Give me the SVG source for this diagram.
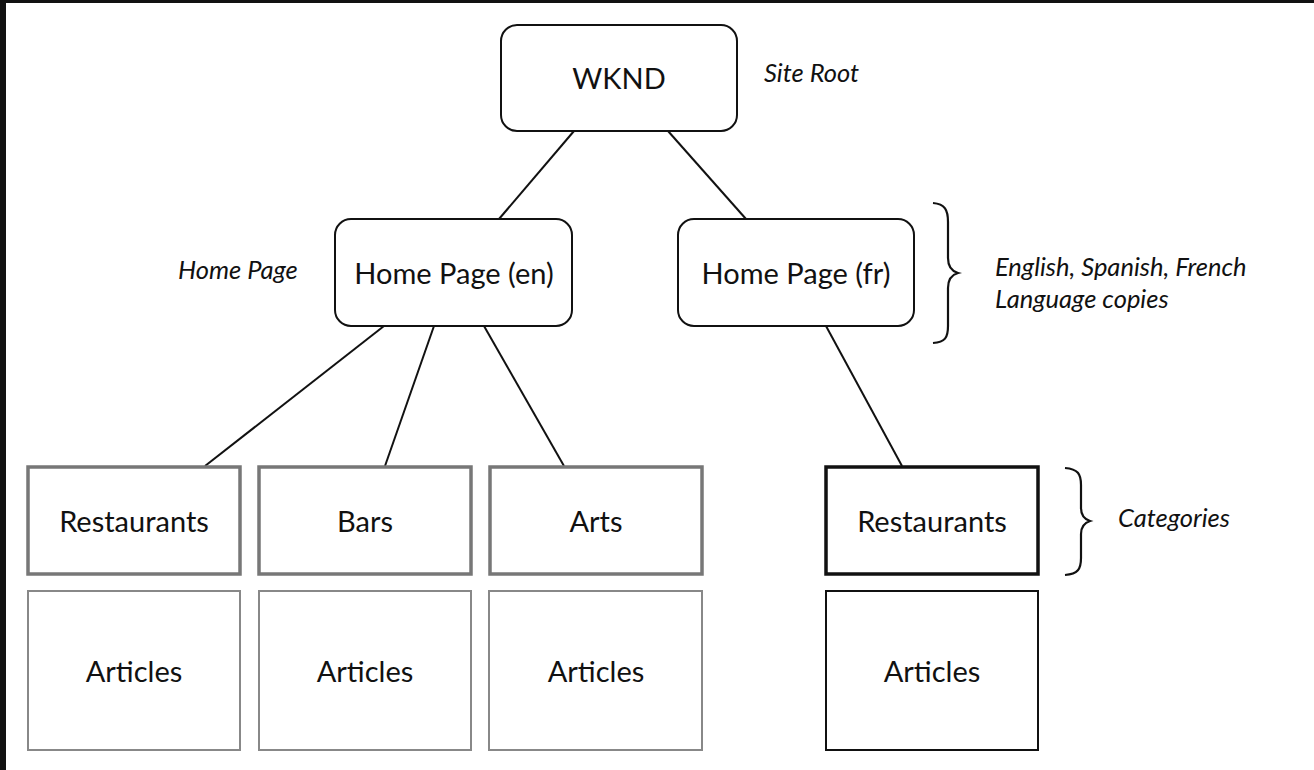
<svg xmlns="http://www.w3.org/2000/svg" width="1314" height="770" viewBox="0 0 1314 770">
<style>
.t{font-family:Lato,"Open Sans","Liberation Sans",sans-serif;font-size:29px;fill:#111;text-anchor:middle}
.i{font-family:Lato,"Open Sans","Liberation Sans",sans-serif;font-size:25.5px;font-style:italic;fill:#111}
.rr{fill:#fff;stroke:#111;stroke-width:2}
.cg{fill:#fff;stroke:#777;stroke-width:3.5}
.ag{fill:#fff;stroke:#888;stroke-width:2}
.cb{fill:#fff;stroke:#111;stroke-width:3.5}
.ab{fill:#fff;stroke:#111;stroke-width:2}
.c{stroke:#111;stroke-width:2;fill:none}
.br{stroke:#111;stroke-width:2.2;fill:none}
</style>
<rect x="0" y="0" width="1314" height="770" fill="#fff"/>
<rect x="0" y="0" width="1314" height="3" fill="#111"/>
<rect x="0" y="0" width="6" height="770" fill="#111"/>
<g id="connectors">
<line class="c" x1="574" y1="131" x2="499" y2="219"/>
<line class="c" x1="668" y1="131" x2="746" y2="219"/>
<line class="c" x1="384" y1="326" x2="205" y2="466"/>
<line class="c" x1="434" y1="326" x2="385" y2="466"/>
<line class="c" x1="484" y1="326" x2="564" y2="466"/>
<line class="c" x1="826" y1="326" x2="902" y2="466"/>
</g>
<g id="wknd"><rect class="rr" x="501" y="25" width="236" height="106" rx="16"/><text class="t" x="619" y="89">WKND</text></g>
<g id="hp-en"><rect class="rr" x="335" y="219" width="237" height="107" rx="16"/><text class="t" x="454" y="284">Home Page (en)</text></g>
<g id="hp-fr"><rect class="rr" x="678" y="219" width="236" height="107" rx="16"/><text class="t" x="796" y="284">Home Page (fr)</text></g>
<g id="rest-en"><rect class="cg" x="28" y="467" width="212" height="107"/><text class="t" x="134" y="532">Restaurants</text></g>
<g id="bars"><rect class="cg" x="259" y="467" width="212" height="107"/><text class="t" x="365" y="532">Bars</text></g>
<g id="arts"><rect class="cg" x="490" y="467" width="212" height="107"/><text class="t" x="596" y="532">Arts</text></g>
<g id="rest-fr"><rect class="cb" x="826" y="467" width="212" height="107"/><text class="t" x="932" y="532">Restaurants</text></g>
<g id="art1"><rect class="ag" x="28" y="591" width="212" height="159"/><text class="t" x="134" y="682">Articles</text></g>
<g id="art2"><rect class="ag" x="259" y="591" width="212" height="159"/><text class="t" x="365" y="682">Articles</text></g>
<g id="art3"><rect class="ag" x="489" y="591" width="213" height="159"/><text class="t" x="596" y="682">Articles</text></g>
<g id="art4"><rect class="ab" x="826" y="591" width="212" height="159"/><text class="t" x="932" y="682">Articles</text></g>
<g id="labels">
<text class="i" x="764" y="82">Site Root</text>
<text class="i" x="178" y="279">Home Page</text>
<text class="i" x="995" y="276">English, Spanish, French</text>
<text class="i" x="995" y="308">Language copies</text>
<text class="i" x="1118" y="527">Categories</text>
</g>
<g id="braces">
<path class="br" d="M933,203 C945,204 948,210 948,222 L948,258 C948,266 951,271 958,273 C951,275 948,280 948,288 L948,326 C948,338 945,342 933,343"/>
<path class="br" d="M1065,468 C1078,469 1081,474 1081,485 L1081,508 C1081,515 1084,519 1090,521 C1084,523 1081,527 1081,534 L1081,558 C1081,569 1078,574 1065,575"/>
</g>
</svg>
